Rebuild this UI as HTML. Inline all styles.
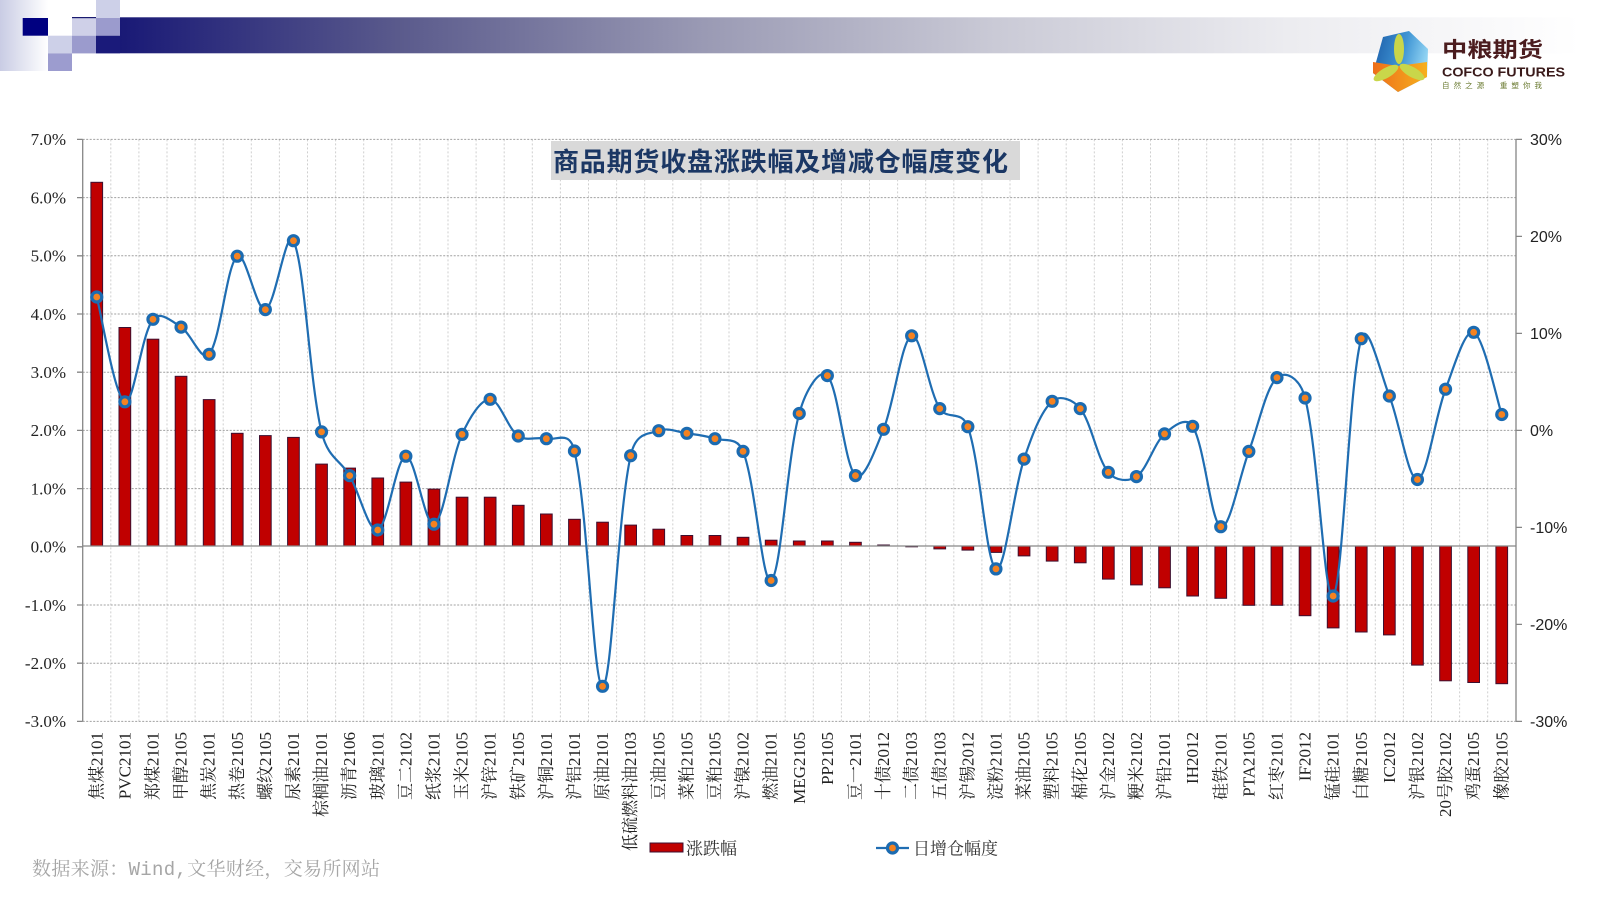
<!DOCTYPE html>
<html><head><meta charset="utf-8"><style>
html,body{margin:0;padding:0;background:#fff;}
svg{display:block;}
.xl{font-family:"Liberation Serif","Noto Serif CJK SC",serif;font-size:17px;fill:#222;}
.yl{font-family:"Liberation Serif","Noto Serif CJK SC",serif;font-size:17px;fill:#222;}
.yr{font-family:"Liberation Sans","Noto Sans CJK SC",sans-serif;font-size:16px;fill:#222;}
</style></head><body>
<svg width="1600" height="900" viewBox="0 0 1600 900" xmlns="http://www.w3.org/2000/svg">
<defs>
<linearGradient id="hb" x1="120" y1="0" x2="1580" y2="0" gradientUnits="userSpaceOnUse">
<stop offset="0" stop-color="#191976"/><stop offset="0.19" stop-color="#5a5a8c"/><stop offset="0.4" stop-color="#9a9ab4"/><stop offset="0.6" stop-color="#cacad6"/><stop offset="0.8" stop-color="#ececf0"/><stop offset="1" stop-color="#ffffff"/>
</linearGradient>
<linearGradient id="hl" x1="0" y1="0" x2="1" y2="0">
<stop offset="0" stop-color="#c9cce4"/><stop offset="1" stop-color="#ffffff"/>
</linearGradient>
<linearGradient id="lb" x1="0" y1="0" x2="1" y2="0.3">
<stop offset="0" stop-color="#1a5aa6"/><stop offset="0.6" stop-color="#3f95d4"/><stop offset="1" stop-color="#8fd2f2"/>
</linearGradient>
<linearGradient id="lo" x1="0" y1="0" x2="1" y2="0">
<stop offset="0" stop-color="#ee6e1a"/><stop offset="1" stop-color="#f6b01e"/>
</linearGradient>
<g id="m"><circle r="6.6" fill="#1b6bb1"/><circle r="3.4" fill="#f58220"/></g>
</defs>

<!-- header -->
<rect x="0" y="0" width="48" height="71" fill="url(#hl)"/>
<rect x="22.7" y="18" width="25.3" height="17.7" fill="#000080"/>
<rect x="48" y="35.7" width="24" height="17.7" fill="#cdd0e8"/>
<rect x="48" y="53.4" width="24" height="17.6" fill="#9c9ccf"/>
<rect x="72" y="18" width="24" height="17.7" fill="#cfd0e8"/>
<rect x="72" y="35.7" width="24" height="17.7" fill="#9b9bcd"/>
<rect x="72" y="17" width="24" height="1.2" fill="#1a1a70"/>
<rect x="96" y="0" width="24" height="18" fill="#cdd0e8"/>
<rect x="96" y="18" width="24" height="17.7" fill="#9b9bcd"/>
<rect x="96" y="35.7" width="24" height="17.7" fill="#1a1a7a"/>
<rect x="120" y="17.3" width="1460" height="36" fill="url(#hb)"/>

<!-- logo -->
<polygon points="1383,37 1409,31 1428,49 1427,77 1398,92 1373,73" fill="url(#lb)"/>
<polygon points="1373,62 1398,66 1427,62 1427,77 1398,92 1373,73" fill="url(#lo)"/>
<ellipse cx="1399" cy="49" rx="5" ry="15" fill="#c9d64a"/>
<ellipse cx="1386" cy="73" rx="5" ry="14" fill="#c9d64a" transform="rotate(60 1386 73)"/>
<ellipse cx="1412" cy="72" rx="5" ry="14" fill="#c9d64a" transform="rotate(-60 1412 72)"/>
<text x="1442" y="57" font-family="Noto Sans CJK SC, sans-serif" font-weight="bold" font-size="21" fill="#4b1c1e" textLength="101" lengthAdjust="spacingAndGlyphs">中粮期货</text>
<text x="1442" y="76.5" font-family="Liberation Sans, sans-serif" font-weight="bold" font-size="12.5" fill="#3a1a1a" textLength="123" lengthAdjust="spacingAndGlyphs">COFCO FUTURES</text>
<text x="1442" y="88" font-family="Noto Sans CJK SC, sans-serif" font-size="7.5" fill="#6a7a30" textLength="100" lengthAdjust="spacing">自然之源　重塑你我</text>

<!-- vertical grid -->
<path d="M110.8 139.4V721.4M138.9 139.4V721.4M167 139.4V721.4M195.1 139.4V721.4M223.2 139.4V721.4M251.3 139.4V721.4M279.4 139.4V721.4M307.5 139.4V721.4M335.6 139.4V721.4M363.7 139.4V721.4M391.8 139.4V721.4M419.9 139.4V721.4M448 139.4V721.4M476.1 139.4V721.4M504.2 139.4V721.4M532.3 139.4V721.4M560.4 139.4V721.4M588.5 139.4V721.4M616.6 139.4V721.4M644.7 139.4V721.4M672.8 139.4V721.4M700.9 139.4V721.4M729 139.4V721.4M757.1 139.4V721.4M785.2 139.4V721.4M813.3 139.4V721.4M841.4 139.4V721.4M869.5 139.4V721.4M897.6 139.4V721.4M925.7 139.4V721.4M953.8 139.4V721.4M981.9 139.4V721.4M1010 139.4V721.4M1038.1 139.4V721.4M1066.2 139.4V721.4M1094.3 139.4V721.4M1122.4 139.4V721.4M1150.5 139.4V721.4M1178.6 139.4V721.4M1206.7 139.4V721.4M1234.8 139.4V721.4M1262.9 139.4V721.4M1291 139.4V721.4M1319.1 139.4V721.4M1347.2 139.4V721.4M1375.3 139.4V721.4M1403.4 139.4V721.4M1431.5 139.4V721.4M1459.6 139.4V721.4M1487.7 139.4V721.4" stroke="#cfcfcf" stroke-width="1" stroke-dasharray="2 2" fill="none"/>
<!-- horizontal grid -->
<path d="M82.7 139.4H1516M82.7 197.6H1516M82.7 255.8H1516M82.7 314H1516M82.7 372.2H1516M82.7 430.4H1516M82.7 488.6H1516M82.7 605H1516M82.7 663.2H1516M82.7 721.4H1516" stroke="#a0a0a0" stroke-width="1" stroke-dasharray="2 1.5" fill="none"/>

<!-- bars -->
<g fill="#c00000" stroke="#3c1030" stroke-width="1">
<rect x="90.9" y="182.3" width="11.7" height="363.7"/>
<rect x="119" y="327.5" width="11.7" height="218.5"/>
<rect x="147.1" y="339.2" width="11.7" height="206.8"/>
<rect x="175.2" y="376.3" width="11.7" height="169.7"/>
<rect x="203.3" y="399.6" width="11.7" height="146.4"/>
<rect x="231.4" y="433.3" width="11.7" height="112.7"/>
<rect x="259.5" y="435.6" width="11.7" height="110.4"/>
<rect x="287.6" y="437.4" width="11.7" height="108.6"/>
<rect x="315.7" y="464.1" width="11.7" height="81.9"/>
<rect x="343.8" y="468.1" width="11.7" height="77.9"/>
<rect x="371.9" y="478" width="11.7" height="68"/>
<rect x="400" y="482.1" width="11.7" height="63.9"/>
<rect x="428.1" y="489.1" width="11.7" height="56.9"/>
<rect x="456.2" y="497.2" width="11.7" height="48.8"/>
<rect x="484.3" y="497.2" width="11.7" height="48.8"/>
<rect x="512.4" y="505.3" width="11.7" height="40.7"/>
<rect x="540.5" y="514" width="11.7" height="32"/>
<rect x="568.6" y="519.3" width="11.7" height="26.7"/>
<rect x="596.7" y="522.2" width="11.7" height="23.8"/>
<rect x="624.8" y="525.1" width="11.7" height="20.9"/>
<rect x="652.9" y="529.2" width="11.7" height="16.8"/>
<rect x="681" y="535.5" width="11.7" height="10.5"/>
<rect x="709.1" y="535.5" width="11.7" height="10.5"/>
<rect x="737.2" y="537.3" width="11.7" height="8.7"/>
<rect x="765.3" y="540.2" width="11.7" height="5.8"/>
<rect x="793.4" y="541" width="11.7" height="5"/>
<rect x="821.5" y="541" width="11.7" height="5"/>
<rect x="849.6" y="542.3" width="11.7" height="3.7"/>
<rect x="877.7" y="545" width="11.7" height="1"/>
<rect x="905.8" y="546" width="11.7" height="0.8"/>
<rect x="933.9" y="546" width="11.7" height="2.9"/>
<rect x="962" y="546" width="11.7" height="4.1"/>
<rect x="990.1" y="546" width="11.7" height="6.4"/>
<rect x="1018.2" y="546" width="11.7" height="9.9"/>
<rect x="1046.3" y="546" width="11.7" height="15.1"/>
<rect x="1074.4" y="546" width="11.7" height="16.8"/>
<rect x="1102.5" y="546" width="11.7" height="33.1"/>
<rect x="1130.6" y="546" width="11.7" height="38.9"/>
<rect x="1158.7" y="546" width="11.7" height="41.8"/>
<rect x="1186.8" y="546" width="11.7" height="50"/>
<rect x="1214.9" y="546" width="11.7" height="52.3"/>
<rect x="1243" y="546" width="11.7" height="59.3"/>
<rect x="1271.1" y="546" width="11.7" height="59.3"/>
<rect x="1299.2" y="546" width="11.7" height="69.7"/>
<rect x="1327.3" y="546" width="11.7" height="81.9"/>
<rect x="1355.4" y="546" width="11.7" height="86"/>
<rect x="1383.5" y="546" width="11.7" height="88.9"/>
<rect x="1411.6" y="546" width="11.7" height="119.1"/>
<rect x="1439.7" y="546" width="11.7" height="134.8"/>
<rect x="1467.8" y="546" width="11.7" height="136.5"/>
<rect x="1495.9" y="546" width="11.7" height="137.7"/>
</g>

<!-- axes -->
<g stroke="#868686" stroke-width="1.3" fill="none">
<path d="M82.7 546H1516"/>
<path d="M82.7 139.4V721.4"/>
<path d="M77 139.4H82.7M77 197.6H82.7M77 255.8H82.7M77 314H82.7M77 372.2H82.7M77 430.4H82.7M77 488.6H82.7M77 546.8H82.7M77 605H82.7M77 663.2H82.7M77 721.4H82.7"/>
<path d="M1516 139.4V721.4"/>
<path d="M1516 139.4H1522M1516 236.4H1522M1516 333.4H1522M1516 430.4H1522M1516 527.4H1522M1516 624.4H1522M1516 721.4H1522"/>
</g>

<!-- left labels -->
<g class="yl" text-anchor="end">
<text x="66" y="145.2">7.0%</text>
<text x="66" y="203.4">6.0%</text>
<text x="66" y="261.6">5.0%</text>
<text x="66" y="319.8">4.0%</text>
<text x="66" y="378">3.0%</text>
<text x="66" y="436.2">2.0%</text>
<text x="66" y="494.4">1.0%</text>
<text x="66" y="552.6">0.0%</text>
<text x="66" y="610.8">-1.0%</text>
<text x="66" y="669">-2.0%</text>
<text x="66" y="727.2">-3.0%</text>
</g>
<!-- right labels -->
<g class="yr">
<text x="1530" y="145.1">30%</text>
<text x="1530" y="242.1">20%</text>
<text x="1530" y="339.1">10%</text>
<text x="1530" y="436.1">0%</text>
<text x="1530" y="533.1">-10%</text>
<text x="1530" y="630.1">-20%</text>
<text x="1530" y="727.1">-30%</text>
</g>

<!-- title -->
<rect x="551" y="141" width="469" height="39" fill="#d9d9d9"/>
<text x="553" y="171" font-family="Noto Sans CJK SC, sans-serif" font-weight="bold" font-size="26" fill="#1b3764" textLength="455" lengthAdjust="spacing">商品期货收盘涨跌幅及增减仓幅度变化</text>

<!-- line -->
<path d="M96.75 297 C101.43 314.47 114.97 397.88 124.85 401.8 C133.71 405.31 141.08 335.08 152.95 319.3 C159.81 310.18 172.37 321.69 181.05 327.1 C191.1 333.36 201.99 363.33 209.15 354.3 C220.72 339.7 226.66 264.62 237.25 256.2 C245.39 249.72 256.48 312.05 265.35 309.6 C275.21 306.88 286.27 225.08 293.45 240.7 C305.01 265.86 309.21 380.34 321.55 431.9 C327.95 458.63 340.66 459.91 349.65 475.6 C359.4 492.61 368.98 533.03 377.75 530 C387.71 526.56 396.32 457.18 405.85 456.2 C415.05 455.25 425.15 527.61 433.95 524.2 C443.89 520.34 450.98 459.01 462.05 434.4 C469.71 417.38 480.84 399.04 490.15 399.3 C499.58 399.57 507.73 428.62 518.25 436 C526.47 441.76 537.18 436.25 546.35 438.7 C555.92 441.25 569.49 429.16 574.45 451 C588.22 511.69 593.14 685.51 602.55 686.3 C611.87 687.08 617.29 516.46 630.65 455.7 C636.02 431.26 648.71 434.7 658.75 430.7 C667.44 427.23 677.52 431.97 686.85 433.3 C696.25 434.64 705.76 435.74 714.95 438.7 C724.49 441.77 736.95 436 743.05 451.4 C755.68 483.28 762.37 586.42 771.15 580.5 C781.1 573.79 786.99 458.19 799.25 413.5 C805.72 389.9 819.81 367.27 827.35 375.6 C838.54 387.96 844.58 465.21 855.45 475.6 C863.31 483.11 875.55 449.19 883.55 429.3 C894.28 402.6 901.76 339.44 911.65 335.8 C920.49 332.54 928.43 390.28 939.75 408.6 C947.16 420.59 961.77 409.37 967.85 426.7 C980.51 462.8 986 563.17 995.95 568.9 C1004.74 573.97 1013.37 490.96 1024.05 459.1 C1032.1 435.08 1040.94 411.37 1052.15 401.3 C1059.68 394.53 1072.89 399.31 1080.25 408.6 C1091.63 422.98 1096.92 458.47 1108.35 472.3 C1115.66 481.14 1128.45 482.07 1136.45 476.6 C1147.18 469.27 1153.87 443.46 1164.55 433.9 C1172.6 426.69 1186.18 415.61 1192.65 426.3 C1204.91 446.55 1210.78 522.25 1220.75 526.7 C1229.51 530.61 1239.44 476.36 1248.85 451.4 C1258.17 426.66 1265.68 388.31 1276.95 377.6 C1284.41 370.51 1299.54 376.6 1305.05 398 C1318.27 449.39 1324.39 605.24 1333.15 596 C1343.12 585.48 1348.73 383.24 1361.25 338.7 C1367.47 316.58 1380.74 374.43 1389.35 396 C1399.47 421.36 1408.25 480.61 1417.45 479.5 C1426.98 478.35 1435.25 416.17 1445.55 389.2 C1453.99 367.11 1465.01 328.41 1473.65 332.3 C1483.75 336.85 1497.07 400.8 1501.75 414.5" stroke="#1f6db2" stroke-width="2.2" fill="none"/>

<!-- markers -->
<use href="#m" x="96.75" y="297"/>
<use href="#m" x="124.85" y="401.8"/>
<use href="#m" x="152.95" y="319.3"/>
<use href="#m" x="181.05" y="327.1"/>
<use href="#m" x="209.15" y="354.3"/>
<use href="#m" x="237.25" y="256.2"/>
<use href="#m" x="265.35" y="309.6"/>
<use href="#m" x="293.45" y="240.7"/>
<use href="#m" x="321.55" y="431.9"/>
<use href="#m" x="349.65" y="475.6"/>
<use href="#m" x="377.75" y="530"/>
<use href="#m" x="405.85" y="456.2"/>
<use href="#m" x="433.95" y="524.2"/>
<use href="#m" x="462.05" y="434.4"/>
<use href="#m" x="490.15" y="399.3"/>
<use href="#m" x="518.25" y="436"/>
<use href="#m" x="546.35" y="438.7"/>
<use href="#m" x="574.45" y="451"/>
<use href="#m" x="602.55" y="686.3"/>
<use href="#m" x="630.65" y="455.7"/>
<use href="#m" x="658.75" y="430.7"/>
<use href="#m" x="686.85" y="433.3"/>
<use href="#m" x="714.95" y="438.7"/>
<use href="#m" x="743.05" y="451.4"/>
<use href="#m" x="771.15" y="580.5"/>
<use href="#m" x="799.25" y="413.5"/>
<use href="#m" x="827.35" y="375.6"/>
<use href="#m" x="855.45" y="475.6"/>
<use href="#m" x="883.55" y="429.3"/>
<use href="#m" x="911.65" y="335.8"/>
<use href="#m" x="939.75" y="408.6"/>
<use href="#m" x="967.85" y="426.7"/>
<use href="#m" x="995.95" y="568.9"/>
<use href="#m" x="1024.05" y="459.1"/>
<use href="#m" x="1052.15" y="401.3"/>
<use href="#m" x="1080.25" y="408.6"/>
<use href="#m" x="1108.35" y="472.3"/>
<use href="#m" x="1136.45" y="476.6"/>
<use href="#m" x="1164.55" y="433.9"/>
<use href="#m" x="1192.65" y="426.3"/>
<use href="#m" x="1220.75" y="526.7"/>
<use href="#m" x="1248.85" y="451.4"/>
<use href="#m" x="1276.95" y="377.6"/>
<use href="#m" x="1305.05" y="398"/>
<use href="#m" x="1333.15" y="596"/>
<use href="#m" x="1361.25" y="338.7"/>
<use href="#m" x="1389.35" y="396"/>
<use href="#m" x="1417.45" y="479.5"/>
<use href="#m" x="1445.55" y="389.2"/>
<use href="#m" x="1473.65" y="332.3"/>
<use href="#m" x="1501.75" y="414.5"/>

<!-- x labels -->
<g class="xl" text-anchor="end" dominant-baseline="central">
<text transform="translate(96.75 732) rotate(-90)">焦煤2101</text>
<text transform="translate(124.85 732) rotate(-90)">PVC2101</text>
<text transform="translate(152.95 732) rotate(-90)">郑煤2101</text>
<text transform="translate(181.05 732) rotate(-90)">甲醇2105</text>
<text transform="translate(209.15 732) rotate(-90)">焦炭2101</text>
<text transform="translate(237.25 732) rotate(-90)">热卷2105</text>
<text transform="translate(265.35 732) rotate(-90)">螺纹2105</text>
<text transform="translate(293.45 732) rotate(-90)">尿素2101</text>
<text transform="translate(321.55 732) rotate(-90)">棕榈油2101</text>
<text transform="translate(349.65 732) rotate(-90)">沥青2106</text>
<text transform="translate(377.75 732) rotate(-90)">玻璃2101</text>
<text transform="translate(405.85 732) rotate(-90)">豆二2102</text>
<text transform="translate(433.95 732) rotate(-90)">纸浆2101</text>
<text transform="translate(462.05 732) rotate(-90)">玉米2105</text>
<text transform="translate(490.15 732) rotate(-90)">沪锌2101</text>
<text transform="translate(518.25 732) rotate(-90)">铁矿2105</text>
<text transform="translate(546.35 732) rotate(-90)">沪铜2101</text>
<text transform="translate(574.45 732) rotate(-90)">沪铝2101</text>
<text transform="translate(602.55 732) rotate(-90)">原油2101</text>
<text transform="translate(630.65 732) rotate(-90)">低硫燃料油2103</text>
<text transform="translate(658.75 732) rotate(-90)">豆油2105</text>
<text transform="translate(686.85 732) rotate(-90)">菜粕2105</text>
<text transform="translate(714.95 732) rotate(-90)">豆粕2105</text>
<text transform="translate(743.05 732) rotate(-90)">沪镍2102</text>
<text transform="translate(771.15 732) rotate(-90)">燃油2101</text>
<text transform="translate(799.25 732) rotate(-90)">MEG2105</text>
<text transform="translate(827.35 732) rotate(-90)">PP2105</text>
<text transform="translate(855.45 732) rotate(-90)">豆一2101</text>
<text transform="translate(883.55 732) rotate(-90)">十债2012</text>
<text transform="translate(911.65 732) rotate(-90)">二债2103</text>
<text transform="translate(939.75 732) rotate(-90)">五债2103</text>
<text transform="translate(967.85 732) rotate(-90)">沪锡2012</text>
<text transform="translate(995.95 732) rotate(-90)">淀粉2101</text>
<text transform="translate(1024.05 732) rotate(-90)">菜油2105</text>
<text transform="translate(1052.15 732) rotate(-90)">塑料2105</text>
<text transform="translate(1080.25 732) rotate(-90)">棉花2105</text>
<text transform="translate(1108.35 732) rotate(-90)">沪金2102</text>
<text transform="translate(1136.45 732) rotate(-90)">粳米2102</text>
<text transform="translate(1164.55 732) rotate(-90)">沪铅2101</text>
<text transform="translate(1192.65 732) rotate(-90)">IH2012</text>
<text transform="translate(1220.75 732) rotate(-90)">硅铁2101</text>
<text transform="translate(1248.85 732) rotate(-90)">PTA2105</text>
<text transform="translate(1276.95 732) rotate(-90)">红枣2101</text>
<text transform="translate(1305.05 732) rotate(-90)">IF2012</text>
<text transform="translate(1333.15 732) rotate(-90)">锰硅2101</text>
<text transform="translate(1361.25 732) rotate(-90)">白糖2105</text>
<text transform="translate(1389.35 732) rotate(-90)">IC2012</text>
<text transform="translate(1417.45 732) rotate(-90)">沪银2102</text>
<text transform="translate(1445.55 732) rotate(-90)">20号胶2102</text>
<text transform="translate(1473.65 732) rotate(-90)">鸡蛋2105</text>
<text transform="translate(1501.75 732) rotate(-90)">橡胶2105</text>
</g>

<!-- legend -->
<rect x="650" y="843" width="33" height="9" fill="#c00000" stroke="#3c1030" stroke-width="1"/>
<text x="686" y="854.5" font-family="Liberation Serif, Noto Serif CJK SC, serif" font-size="17" fill="#333">涨跌幅</text>
<line x1="876" y1="848" x2="909" y2="848" stroke="#1f6db2" stroke-width="2.2"/>
<use href="#m" x="892.5" y="848"/>
<text x="913" y="854.5" font-family="Liberation Serif, Noto Serif CJK SC, serif" font-size="17" fill="#333">日增仓幅度</text>

<!-- source -->
<text x="32" y="875" font-family="Liberation Mono, Noto Serif CJK SC, serif" font-size="19" fill="#a6a6a6" textLength="348" lengthAdjust="spacing">数据来源：Wind,文华财经，交易所网站</text>
</svg>
</body></html>
